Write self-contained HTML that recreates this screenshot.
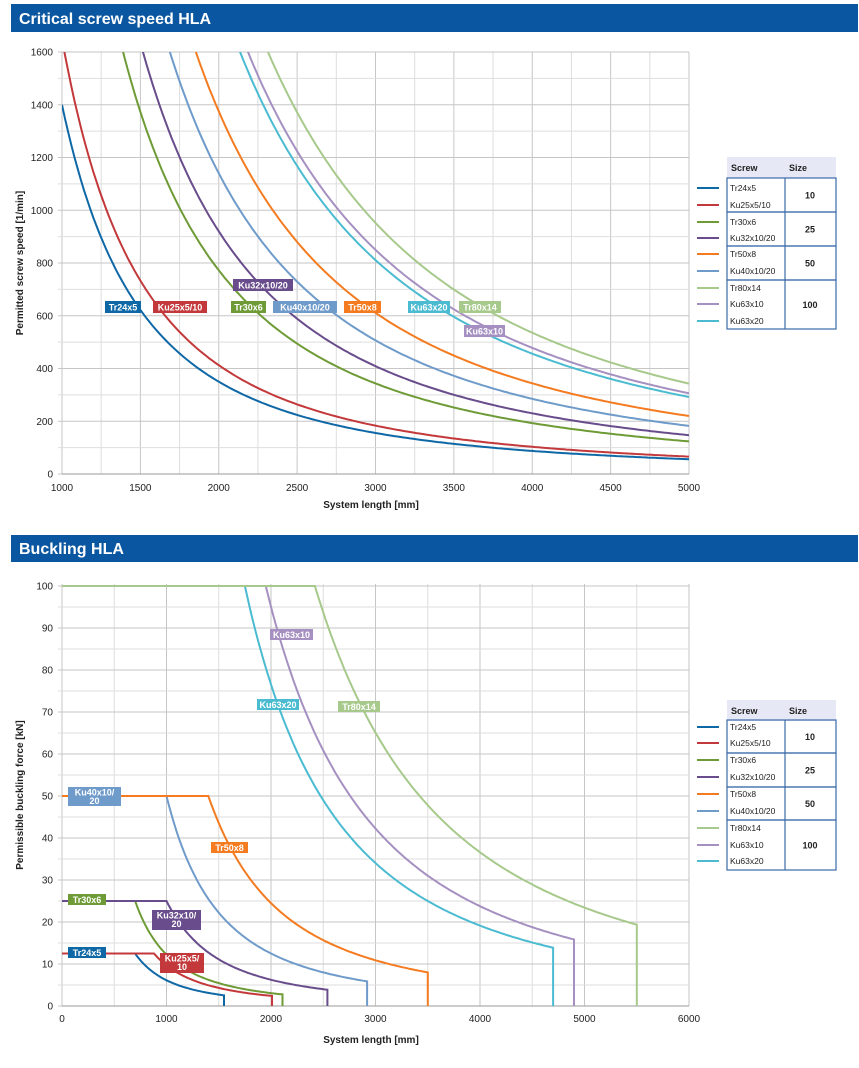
<!DOCTYPE html>
<html><head><meta charset="utf-8"><style>
body{margin:0;background:#fff;width:859px;height:1068px;overflow:hidden}
svg{display:block}
text{font-family:"Liberation Sans",sans-serif}
</style></head><body>
<svg id="s" width="859" height="1068" viewBox="0 0 859 1068" xmlns="http://www.w3.org/2000/svg">
<rect x="11" y="4" width="847" height="28" fill="#0a56a0"/>
<text x="19" y="24" font-size="16" font-weight="bold" fill="#fff">Critical screw speed HLA</text>
<rect x="11" y="535" width="847" height="27" fill="#0a56a0"/>
<text x="19" y="554" font-size="16" font-weight="bold" fill="#fff">Buckling HLA</text>
<g id="g1"></g><g id="g2"></g>
<text transform="translate(23,263) rotate(-90)" font-size="10" font-weight="bold" text-anchor="middle" fill="#222">Permitted screw speed [1/min]</text>
<text x="371" y="508" font-size="10" font-weight="bold" text-anchor="middle" fill="#222">System length [mm]</text>
<text transform="translate(23,795) rotate(-90)" font-size="10" font-weight="bold" text-anchor="middle" fill="#222">Permissible buckling force [kN]</text>
<text x="371" y="1043" font-size="10" font-weight="bold" text-anchor="middle" fill="#222">System length [mm]</text>
</svg>
<script>
var S=document.getElementById('s'),NS='http://www.w3.org/2000/svg';
function el(p,t,a,txt){var e=document.createElementNS(NS,t);for(var k in a)e.setAttribute(k,a[k]);if(txt!==undefined)e.textContent=txt;p.appendChild(e);return e;}
var C={t24:'#0f68a6',k25:'#c3393b',t30:'#6e9b36',k32:'#694c8b',t50:'#f47b20',k40:'#6f9bca',t80:'#a7c98b',k6310:'#a590c1',k6320:'#4bbbd1'};
var g1=document.getElementById('g1'),g2=document.getElementById('g2');
// chart 1
function X1(L){return 62+(L-1000)*627/4000}function Y1(n){return 474-n*422/1600}
for(var L=1000;L<=5000;L+=250){var x=X1(L);el(g1,'line',{x1:x,x2:x,y1:52,y2:474,stroke:L%500?'#dedede':'#c6c6c6','stroke-width':1});}
for(var n=0;n<=1600;n+=100){var y=Y1(n);el(g1,'line',{x1:58,x2:689,y1:y,y2:y,stroke:n%200?'#dedede':'#c6c6c6','stroke-width':1});if(n%200==0)el(g1,'text',{x:53,y:y+3.5,'font-size':10,'text-anchor':'end',fill:'#222'},n);}
for(var L=1000;L<=5000;L+=500)el(g1,'text',{x:X1(L),y:491,'font-size':10,'text-anchor':'middle',fill:'#222'},L);
el(g1,'line',{x1:62,x2:689,y1:474,y2:474,stroke:'#999'});
el(g1,'defs',{}).innerHTML='<clipPath id="c1"><rect x="62" y="52" width="627" height="422"/></clipPath>';
var cur1=[['t24',1.4e9],['k25',1.65e9],['t30',3.09e9],['k32',3.68e9],['k40',4.56e9],['t50',5.5e9],['k6320',7.3e9],['k6310',7.65e9],['t80',8.57e9]];
cur1.forEach(function(c){var d='';for(var L=1000;L<=5000;L+=20){d+=(L==1000?'M':'L')+X1(L).toFixed(1)+','+Y1(c[1]/L/L).toFixed(1);}el(g1,'path',{d:d,fill:'none',stroke:C[c[0]],'stroke-width':2,'clip-path':'url(#c1)'});});
function lab(g,x,y,w,h,col,t1,t2){el(g,'rect',{x:x,y:y,width:w,height:h,fill:col});if(t2){el(g,'text',{x:x+w/2,y:y+8.5,'font-size':9,'font-weight':'bold','text-anchor':'middle',fill:'#fff'},t1);el(g,'text',{x:x+w/2,y:y+17,'font-size':9,'font-weight':'bold','text-anchor':'middle',fill:'#fff'},t2);}else el(g,'text',{x:x+w/2,y:y+h/2+3.3,'font-size':9,'font-weight':'bold','text-anchor':'middle',fill:'#fff'},t1);}
lab(g1,105,301,36,12,C.t24,'Tr24x5');lab(g1,153,301,54,12,C.k25,'Ku25x5/10');lab(g1,231,301,35,12,C.t30,'Tr30x6');
lab(g1,233,279,60,12,C.k32,'Ku32x10/20');lab(g1,273,301,64,12,C.k40,'Ku40x10/20');lab(g1,344,301,37,12,C.t50,'Tr50x8');
lab(g1,408,301,42,12,C.k6320,'Ku63x20');lab(g1,459,301,42,12,C.t80,'Tr80x14');lab(g1,464,325,41,12,C.k6310,'Ku63x10');
function legend(g,ty,rows,ly){el(g,'rect',{x:727,y:ty,width:109,height:21,fill:'#e6e8f5'});
el(g,'text',{x:731,y:ty+14,'font-size':9,'font-weight':'bold',fill:'#222'},'Screw');el(g,'text',{x:789,y:ty+14,'font-size':9,'font-weight':'bold',fill:'#222'},'Size');
var names=['Tr24x5','Ku25x5/10','Tr30x6','Ku32x10/20','Tr50x8','Ku40x10/20','Tr80x14','Ku63x10','Ku63x20'],cols=['t24','k25','t30','k32','t50','k40','t80','k6310','k6320'],sz=['10','25','50','100'];
for(var i=0;i<4;i++){el(g,'rect',{x:727,y:rows[i],width:109,height:rows[i+1]-rows[i],fill:'none',stroke:'#3a6aa8','stroke-width':1.2});el(g,'line',{x1:785,x2:785,y1:rows[i],y2:rows[i+1],stroke:'#3a6aa8','stroke-width':1.2});el(g,'text',{x:810,y:(rows[i]+rows[i+1])/2+3.5,'font-size':9,'font-weight':'bold','text-anchor':'middle',fill:'#222'},sz[i]);}
for(var j=0;j<9;j++){el(g,'line',{x1:697,x2:719,y1:ly[j],y2:ly[j],stroke:C[cols[j]],'stroke-width':2});el(g,'text',{x:730,y:ly[j]+3,'font-size':8.5,fill:'#222'},names[j]);}}
legend(g1,157,[178,212,246,280,329],[188,205,222,238,254,271,288,304,321]);
// chart 2
function X2(L){return 62+L*627/6000}function Y2(f){return 1006-f*4.2}
for(var L=0;L<=6000;L+=500){var x=X2(L);el(g2,'line',{x1:x,x2:x,y1:584,y2:1006,stroke:L%1000?'#dedede':'#c6c6c6','stroke-width':1});}
for(var f=0;f<=100;f+=5){var y=Y2(f);el(g2,'line',{x1:58,x2:689,y1:y,y2:y,stroke:f%10?'#dedede':'#c6c6c6','stroke-width':1});if(f%10==0)el(g2,'text',{x:53,y:y+3.5,'font-size':10,'text-anchor':'end',fill:'#222'},f);}
for(var L=0;L<=6000;L+=1000)el(g2,'text',{x:X2(L),y:1022,'font-size':10,'text-anchor':'middle',fill:'#222'},L);
el(g2,'line',{x1:62,x2:689,y1:1006,y2:1006,stroke:'#999'});
var cur2=[['t24',12.5,700,1550],['k25',12.5,880,2010],['t30',25,700,2110],['k32',25,1000,2540],['k40',50,1000,2920],['t50',50,1400,3500],['k6320',100,1750,4700],['k6310',100,1950,4900],['t80',100,2420,5500]];
cur2.forEach(function(c){var cap=c[1],L0=c[2],k=cap*L0*L0,d='M'+X2(0)+','+Y2(cap)+' L'+X2(L0).toFixed(1)+','+Y2(cap);for(var L=L0;L<=c[3];L+=20)d+=' L'+X2(L).toFixed(1)+','+Y2(k/L/L).toFixed(1);d+=' L'+X2(c[3]).toFixed(1)+','+Y2(k/c[3]/c[3]).toFixed(1)+' L'+X2(c[3]).toFixed(1)+','+Y2(0);el(g2,'path',{d:d,fill:'none',stroke:C[c[0]],'stroke-width':2});});
lab(g2,68,947,38,11,C.t24,'Tr24x5');lab(g2,160,953,44,20,C.k25,'Ku25x5/','10');lab(g2,68,894,38,11,C.t30,'Tr30x6');
lab(g2,152,910,49,20,C.k32,'Ku32x10/','20');lab(g2,68,787,53,19,C.k40,'Ku40x10/','20');lab(g2,211,842,37,11,C.t50,'Tr50x8');
lab(g2,257,699,42,11,C.k6320,'Ku63x20');lab(g2,338,701,42,11,C.t80,'Tr80x14');lab(g2,270,629,43,11,C.k6310,'Ku63x10');
legend(g2,700,[720,753,787,820,870],[727,743,760,777,794,811,828,845,861]);
</script>
</body></html>
